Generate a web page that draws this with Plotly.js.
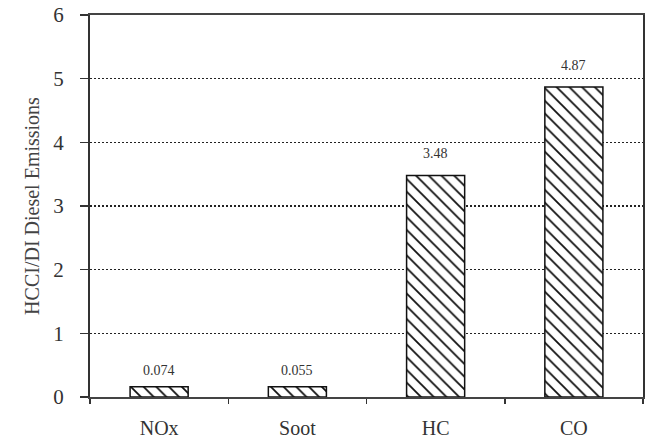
<!DOCTYPE html>
<html>
<head>
<meta charset="utf-8">
<script src="https://cdn.plot.ly/plotly-3.0.1.min.js"></script>
<style>html,body{margin:0;padding:0;background:#fff;}#chart{width:646px;height:439px;}</style>
</head>
<body>
<div id="chart"></div>
<script>
const categories = ["NOx", "Soot", "HC", "CO"];
const barHeights = [0.16, 0.16, 3.48, 4.87];
const valueLabels = ["0.074", "0.055", "3.48", "4.87"];
const yTicks = [0, 1, 2, 3, 4, 5, 6];

const serif = "Liberation Serif, Times New Roman, serif";

const trace = {
  type: "bar",
  x: categories,
  y: barHeights,
  width: 0.42,
  marker: {
    color: "#ffffff",
    line: {color: "#111", width: 1.5},
    pattern: {shape: "\\", fgcolor: "#111", bgcolor: "#ffffff", size: 9, solidity: 0.2}
  },
  hoverinfo: "none"
};

const annotations = categories.map((c, i) => ({
  x: c, y: barHeights[i], text: valueLabels[i], showarrow: false,
  yanchor: "bottom", yshift: barHeights[i] > 1 ? 12 : 7,
  font: {family: serif, size: 14, color: "#333"}
}));

const layout = {
  width: 646, height: 439,
  margin: {l: 90, r: 3, t: 15, b: 42},
  paper_bgcolor: "#fff", plot_bgcolor: "#fff",
  showlegend: false,
  xaxis: {
    type: "category", range: [-0.5, 3.5],
    showline: true, linecolor: "#444", linewidth: 2, mirror: true,
    ticks: "outside", tickson: "boundaries", ticklen: 5, tickcolor: "#333", tickwidth: 1.5,
    ticklabelstandoff: 12,
    showgrid: false, zeroline: false,
    tickfont: {family: serif, size: 20, color: "#333"}
  },
  yaxis: {
    range: [0, 6], tickvals: yTicks, ticktext: yTicks.map(String),
    showline: true, linecolor: "#333", linewidth: 2, mirror: true,
    ticks: "outside", ticklen: 8, tickcolor: "#333", tickwidth: 1.5,
    ticklabelstandoff: 12,
    showgrid: true, gridcolor: "#222", griddash: "2px,2px", gridwidth: 1.5,
    zeroline: false,
    tickfont: {family: serif, size: 21, color: "#333"},
    title: {text: "HCCI/DI Diesel Emissions", font: {family: serif, size: 20, color: "#444"}, standoff: 8}
  },
  annotations: annotations
};

Plotly.newPlot("chart", [trace], layout, {staticPlot: true, displayModeBar: false});
</script>
</body>
</html>
